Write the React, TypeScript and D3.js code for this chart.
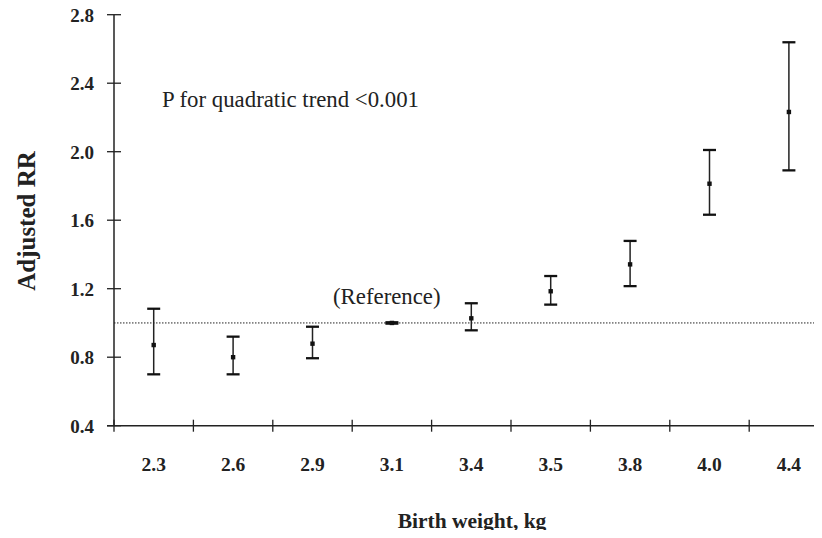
import React from 'react';
import * as d3 from 'd3';

// birth weight categories and adjusted RR with 95% CI
const categories = ['2.3', '2.6', '2.9', '3.1', '3.4', '3.5', '3.8', '4.0', '4.4'];
const rr = [0.871, 0.80, 0.879, 1.0, 1.027, 1.185, 1.342, 1.813, 2.232];
const lower = [0.70, 0.70, 0.794, 0.996, 0.957, 1.107, 1.215, 1.632, 1.891];
const upper = [1.083, 0.92, 0.978, 1.004, 1.115, 1.274, 1.479, 2.01, 2.639];
const yTicks = [0.4, 0.8, 1.2, 1.6, 2.0, 2.4, 2.8];

const W = 822;
const H = 538;
const FONT = "'Liberation Serif', 'Times New Roman', Times, serif";

export default function App() {
  const x = d3.scaleBand().domain(categories).range([114, 114 + 79.4 * 9]);
  const y = d3.scaleLinear().domain([0.4, 2.8]).range([425.7, 14.7]);
  const cap = 6.5;

  return (
    <div style={{ margin: -8 }}>
      <svg width={W} height={H} style={{ display: 'block', background: '#fff', fontFamily: FONT }}>
        {/* reference line */}
        <line x1={x.range()[0]} x2={W} y1={y(1)} y2={y(1)} stroke="#222" strokeWidth={1} strokeDasharray="1.5,1.5" />

        {/* y axis */}
        <line x1={114} x2={114} y1={y(2.8)} y2={y(0.4)} stroke="#222" strokeWidth={1.5} />
        {yTicks.map(t => (
          <g key={t}>
            <line x1={107} x2={121} y1={y(t)} y2={y(t)} stroke="#222" strokeWidth={1.3} />
            <text x={94} y={y(t) + 7} textAnchor="end" fontSize={19} fontWeight="bold" fill="#222">
              {d3.format('.1f')(t)}
            </text>
          </g>
        ))}

        {/* x axis */}
        <line x1={107} x2={W} y1={y(0.4)} y2={y(0.4)} stroke="#222" strokeWidth={1.5} />
        {categories.map(c => (
          <g key={c}>
            <line x1={x(c)!} x2={x(c)!} y1={y(0.4) - 6} y2={y(0.4) + 6} stroke="#222" strokeWidth={1.3} />
            <text x={x(c)! + x.bandwidth() / 2} y={471} textAnchor="middle" fontSize={19.5} fontWeight="bold" fill="#222">
              {c}
            </text>
          </g>
        ))}

        {/* error bars */}
        {categories.map((c, i) => {
          const cx = x(c)! + x.bandwidth() / 2;
          return (
            <g key={'e' + c}>
              <line x1={cx} x2={cx} y1={y(upper[i])} y2={y(lower[i])} stroke="#222" strokeWidth={1.5} />
              <line x1={cx - cap} x2={cx + cap} y1={y(upper[i])} y2={y(upper[i])} stroke="#111" strokeWidth={2.3} />
              <line x1={cx - cap} x2={cx + cap} y1={y(lower[i])} y2={y(lower[i])} stroke="#111" strokeWidth={2.3} />
              <rect x={cx - 2.2} y={y(rr[i]) - 2.2} width={4.4} height={4.4} fill="#111" />
            </g>
          );
        })}

        {/* annotations */}
        <text x={162} y={106.5} fontSize={22.8} fill="#222">P for quadratic trend &lt;0.001</text>
        <text x={333} y={304} fontSize={22.8} fill="#222">(Reference)</text>

        {/* axis titles */}
        <text transform={`translate(35, 221) rotate(-90)`} textAnchor="middle" fontSize={25} fontWeight="bold" fill="#222">
          Adjusted RR
        </text>
        <text x={472} y={528} textAnchor="middle" fontSize={21.5} fontWeight="bold" fill="#222">
          Birth weight, kg
        </text>
      </svg>
    </div>
  );
}
